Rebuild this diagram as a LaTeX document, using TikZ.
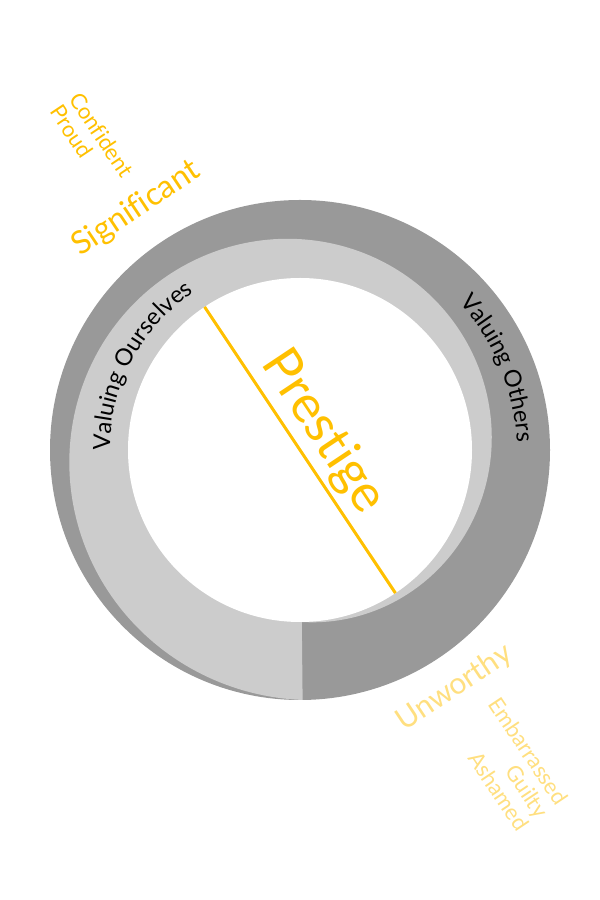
\documentclass[tikz,border=0pt]{standalone}
\usepackage{fontspec}
\setmainfont[Ligatures=NoCommon]{Lato}
\usetikzlibrary{decorations.text,calc}
\definecolor{darkg}{HTML}{999999}
\definecolor{lightg}{HTML}{CCCCCC}
\definecolor{gold}{HTML}{FFC000}
\definecolor{paleg}{HTML}{FFDF80}
\tikzset{
  ringlabel/.style={decorate},
  posword/.style={text=gold, inner sep=0pt},
  negword/.style={text=paleg, inner sep=0pt},
}
\begin{document}
\begin{tikzpicture}[x=1pt,y=1pt]
\useasboundingbox (0,0) rectangle (600,900);
\coordinate (C) at (300,450);
% outer dark disk
\fill[darkg] (C) circle[radius=250];
% light grey spiral band
\fill[lightg] (C) -- plot[domain=-89.4:270.6, samples=240, variable=\t]
  ({300+(172+0.2166667*(\t+89.4))*cos(\t)}, {450+(172+0.2166667*(\t+89.4))*sin(\t)}) -- cycle;
% inner white disk
\fill[white] (C) circle[radius=172];
% prestige diameter
\coordinate (pa) at ($(C)+(123.7:172)$);
\coordinate (pb) at ($(C)+(-56.3:172)$);
\draw[gold, line width=3pt] (pa) -- (pb);
\node[posword, anchor=base, rotate=-56.3, font=\fontsize{52}{56}\selectfont] (prestige) at (311,460) {Prestige};
% ring labels
\path[ringlabel, decoration={text along path, text align=center,
  text={|\fontsize{23.5}{26}\selectfont|Valuing Ourselves}}]
  ($(C)+(179:190)$) arc[start angle=179, end angle=125, radius=190];
\path[ringlabel, decoration={text along path, text align=center,
  text={|\fontsize{23.5}{26}\selectfont|Valuing Others}}]
  ($(C)+(45:217)$) arc[start angle=45, end angle=0, radius=217];
% positive words
\node[posword, anchor=mid, rotate=33.7, font=\fontsize{32}{36}\selectfont] (signif) at (140,686) {Significant};
\node[posword, anchor=center, rotate=-56.3, align=left, font=\fontsize{22}{23}\selectfont] (conf) at (92,759) {Confident\\Proud};
% negative words
\node[negword, anchor=mid, rotate=33.7, font=\fontsize{30}{34}\selectfont] (unw) at (458,207) {Unworthy};
\node[negword, anchor=center, rotate=-56.3, align=right, font=\fontsize{22}{23.5}\selectfont] (emb) at (509,136) {Embarrassed\\Guilty\\Ashamed};
\end{tikzpicture}
\end{document}
